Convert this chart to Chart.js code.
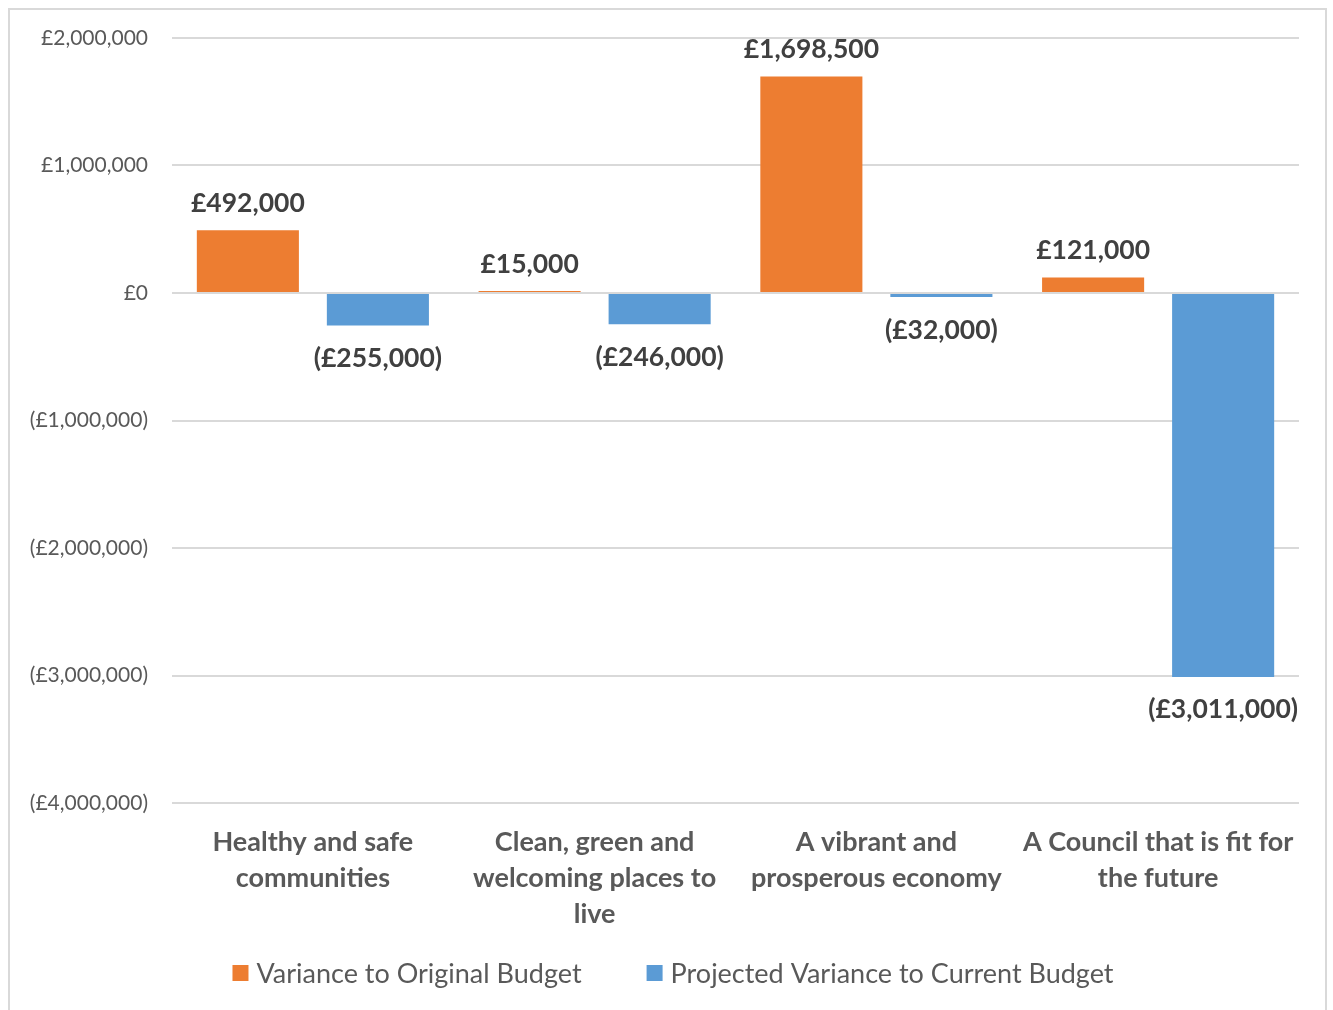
<!DOCTYPE html>
<html>
<head>
<meta charset="utf-8">
<title>Budget variance by priority</title>
<script src="https://cdn.jsdelivr.net/npm/chart.js@4.4.1/dist/chart.umd.min.js"></script>
<style>
  html, body { margin: 0; padding: 0; background: #fff; }
  #wrap { position: relative; width: 1333px; height: 1010px; overflow: hidden; }
  #frame {
    position: absolute; left: 8px; top: 8px; width: 1319px; height: 1100px;
    border: 2px solid #d9d9d9; box-sizing: border-box; pointer-events: none;
  }
  canvas { position: absolute; left: 0; top: 0; }
</style>
</head>
<body>
<div id="wrap">
  <canvas id="chart" width="1333" height="1010"></canvas>
  <div id="frame"></div>
</div>
<script>
const FONT = "Lato, 'Open Sans', sans-serif";

const categories = [
  ["Healthy and safe", "communities"],
  ["Clean, green and", "welcoming places to", "live"],
  ["A vibrant and", "prosperous economy"],
  ["A Council that is fit for", "the future"]
];
const seriesNames = ["Variance to Original Budget", "Projected Variance to Current Budget"];
const originalVariance = [492000, 15000, 1698500, 121000];
const currentVariance = [-255000, -246000, -32000, -3011000];
const seriesColors = ["#ED7D31", "#5B9BD5"];

const yMin = -4000000;
const yMax = 2000000;
const yStep = 1000000;

function money(v) {
  const s = "£" + Math.abs(v).toLocaleString("en-GB");
  return v < 0 ? "(" + s + ")" : s;
}

// value labels above positive bars, below negative ones
const valueLabels = {
  id: "valueLabels",
  afterDatasetsDraw(chart) {
    const ctx = chart.ctx;
    ctx.save();
    ctx.font = "bold 26.5px " + FONT;
    ctx.fillStyle = "#404040";
    ctx.textAlign = "center";
    ctx.textBaseline = "middle";
    chart.data.datasets.forEach((ds, di) => {
      chart.getDatasetMeta(di).data.forEach((bar, i) => {
        const v = ds.data[i];
        const y = v >= 0 ? bar.y - 27 : bar.y + 33;
        ctx.fillText(money(v), bar.x, y);
      });
    });
    ctx.restore();
  }
};

// legend row under the axis labels
const bottomLegend = {
  id: "bottomLegend",
  afterDraw(chart) {
    const ctx = chart.ctx;
    ctx.save();
    ctx.font = "27px " + FONT;
    ctx.textBaseline = "middle";
    ctx.textAlign = "left";
    const box = 16, gap = 8, spacing = 65;
    const widths = chart.data.datasets.map(d => ctx.measureText(d.label).width);
    const total = widths.reduce((a, w) => a + box + gap + w, 0) + spacing * (widths.length - 1);
    let x = 673 - total / 2;
    const cy = 973;
    chart.data.datasets.forEach((d, i) => {
      ctx.fillStyle = d.backgroundColor;
      ctx.fillRect(x, cy - box / 2, box, box);
      ctx.fillStyle = "#595959";
      ctx.fillText(d.label, x + box + gap, cy + 1);
      x += box + gap + widths[i] + spacing;
    });
    ctx.restore();
  }
};

new Chart(document.getElementById("chart"), {
  type: "bar",
  data: {
    labels: categories,
    datasets: [
      { label: seriesNames[0], data: originalVariance, backgroundColor: seriesColors[0] },
      { label: seriesNames[1], data: currentVariance, backgroundColor: seriesColors[1] }
    ]
  },
  options: {
    responsive: false,
    devicePixelRatio: 1,
    animation: false,
    datasets: { bar: { categoryPercentage: 0.923, barPercentage: 0.785 } },
    layout: { padding: { left: 0, top: 38, right: 34, bottom: 77 } },
    plugins: {
      legend: { display: false },
      tooltip: { enabled: false }
    },
    scales: {
      x: {
        grid: { display: false, drawTicks: false },
        border: { display: false },
        ticks: {
          padding: 21,
          maxRotation: 0,
          color: "#595959",
          font: { family: FONT, size: 27, weight: "bold", lineHeight: 36 / 27 }
        },
        afterFit(scale) { scale.height = 130; }
      },
      y: {
        min: yMin,
        max: yMax,
        grid: { color: "#d9d9d9", lineWidth: 2, drawTicks: false },
        border: { display: false },
        ticks: {
          stepSize: yStep,
          padding: 24,
          color: "#595959",
          font: { family: FONT, size: 21 },
          callback: v => money(v)
        },
        afterFit(scale) { scale.width = 172; }
      }
    }
  },
  plugins: [valueLabels, bottomLegend]
});
</script>
</body>
</html>
